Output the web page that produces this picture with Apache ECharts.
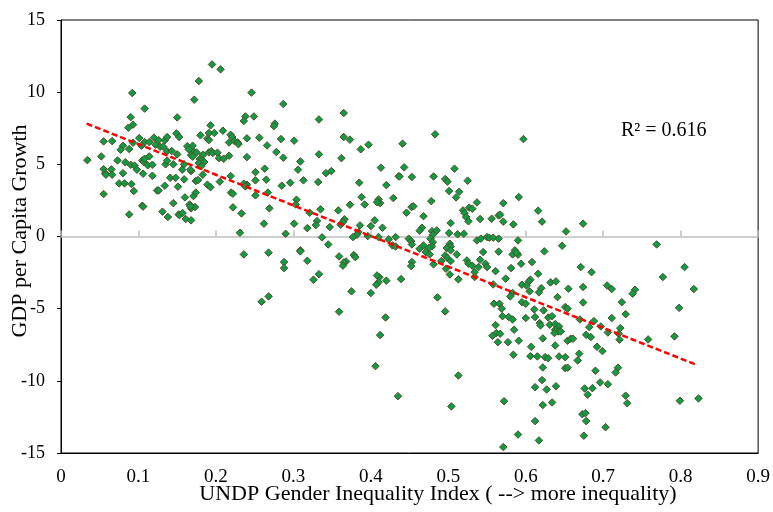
<!DOCTYPE html>
<html><head><meta charset="utf-8">
<script src="https://cdn.jsdelivr.net/npm/echarts@6/dist/echarts.min.js"></script>
<style>html,body{margin:0;padding:0;background:#fff}#c{width:773px;height:512px}</style>
</head><body><div id="c"></div>
<script>
var giiIndex = [
0.092,0.108,0.090,0.093,0.087,0.055,0.066,0.101,0.108,0.114,0.093,0.080,0.077,0.088,0.104,0.120,0.126,0.122,0.128,0.134,0.137,0.132,0.137,0.143,0.149,0.150,0.034,0.052,0.073,0.083,0.090,0.095,0.105,0.107,0.108,0.114,0.112,0.118,0.135,0.137,0.145,0.150,0.055,0.057,0.065,0.058,0.066,0.080,0.098,0.106,0.118,0.141,0.148,0.075,0.082,0.091,0.094,0.134,0.124,0.126,0.151,0.055,0.105,0.106,0.088,0.131,0.138,0.152,
0.178,0.172,0.246,0.287,0.238,0.236,0.249,0.276,0.275,0.193,0.1525,0.180,0.191,0.198,0.189,0.191,0.209,0.219,0.221,0.217,0.224,0.228,0.229,0.240,0.256,0.266,0.284,0.163,0.165,0.170,0.172,0.168,0.175,0.170,0.179,0.1835,0.182,0.185,0.178,0.181,0.191,0.194,0.196,0.202,0.204,0.210,0.217,0.240,0.278,0.287,0.1565,0.159,0.168,0.167,0.183,0.159,0.174,0.177,0.205,0.219,0.251,0.263,0.240,0.251,0.265,0.236,0.238,0.285,0.189,0.193,0.2195,0.222,0.251,0.267,0.160,0.171,0.174,0.166,0.168,0.173,0.167,0.145,0.153,0.157,0.161,0.168,0.222,0.233,0.269,0.262,0.231,0.290,0.195,0.206,
0.365,0.333,0.301,0.365,0.373,0.387,0.397,0.309,0.306,0.333,0.362,0.342,0.349,0.413,0.296,0.313,0.332,0.385,0.420,0.436,0.304,0.303,0.388,0.392,0.373,0.410,0.412,0.408,0.429,0.335,0.358,0.321,0.366,0.364,0.361,0.3305,0.329,0.405,0.301,0.318,0.347,0.386,0.400,0.415,0.384,0.382,0.377,0.396,0.410,0.337,0.423,0.428,0.432,0.432,0.345,0.309,
0.483,0.441,0.443,0.437,0.453,0.481,0.508,0.496,0.499,0.525,0.501,0.514,0.510,0.478,0.537,0.4525,0.455,0.446,0.519,0.521,0.527,0.531,0.523,0.526,0.541,0.556,0.565,0.468,0.503,0.466,0.463,0.479,0.485,0.480,0.501,0.512,0.520,0.449,0.452,0.453,0.477,0.480,0.479,0.502,0.503,0.537,0.542,0.550,0.553,0.558,0.565,0.463,0.468,0.475,0.471,0.476,0.498,0.503,0.511,0.496,0.491,0.481,0.499,0.503,0.524,0.526,0.531,0.539,0.541,0.545,0.548,0.550,0.561,0.453,0.452,0.497,0.502,0.439,0.513,0.534,0.534,0.411,
0.591,0.571,0.567,0.571,0.584,0.616,0.621,0.652,0.674,0.590,0.647,0.565,0.624,0.586,0.583,0.590,0.588,0.594,0.581,0.608,0.616,0.671,0.685,0.606,0.604,0.574,0.632,0.639,0.595,0.601,0.620,0.617,0.605,0.655,0.674,0.705,0.711,0.583,0.580,0.641,0.559,0.566,0.569,0.570,0.595,0.600,0.674,0.611,0.623,0.651,0.600,0.578,0.583,0.629,0.634,0.670,0.688,0.711,0.561,0.618,0.619,0.631,0.638,0.643,0.585,0.682,0.697,
0.558,0.654,0.612,0.638,0.642,0.637,0.645,0.562,0.567,0.557,0.622,0.654,0.658,0.661,0.678,0.684,0.706,0.720,0.564,0.577,0.591,0.638,0.607,0.606,0.615,0.625,0.629,0.643,0.651,0.584,0.669,0.667,0.692,0.699,0.622,0.651,0.654,0.690,0.719,0.716,0.621,0.696,0.706,0.612,0.627,0.639,0.676,0.686,0.680,0.572,0.622,0.634,0.673,0.677,0.678,0.612,0.703,0.675,0.617,0.571,
0.236,0.268,0.288,0.288,0.309,0.318,0.359,0.378,0.380,0.368,0.365,0.364,0.333,0.326,0.408,0.410,0.407,0.420,0.375,0.400,0.268,0.259,0.359,0.419,0.412,0.406,0.435,
0.769,0.805,0.777,0.741,0.738,0.817,0.724,0.729,0.798,0.722,0.721,0.758,0.792,0.729,0.731,0.799,0.823,0.597,
0.504,0.513,0.590,0.486,0.496
];
var gdpGrowth = [
9.94,8.86,8.27,7.75,7.54,6.59,6.61,6.82,6.54,6.54,6.50,6.29,6.01,6.06,6.29,6.85,6.68,6.36,6.22,6.66,6.89,6.22,5.90,5.92,7.14,8.25,5.29,5.55,5.27,5.14,4.97,4.91,5.27,5.16,5.39,5.55,4.93,4.97,5.00,5.25,5.00,5.69,4.67,4.39,4.65,4.28,4.28,4.39,4.63,4.35,4.21,4.07,4.07,3.68,3.68,3.63,3.15,3.52,3.19,3.19,3.45,2.94,2.13,2.07,1.53,1.72,1.35,1.53,
10.77,9.48,9.97,9.18,8.32,8.00,8.32,7.82,7.65,7.70,6.89,7.01,7.17,7.17,6.78,6.68,7.33,7.05,6.89,6.52,6.61,6.52,6.40,6.80,6.85,6.31,6.75,6.26,6.03,6.29,5.85,5.64,5.82,5.53,5.36,5.66,5.27,5.16,5.09,4.86,5.83,5.90,5.78,5.81,5.43,5.39,5.60,5.50,5.85,5.46,4.63,5.00,4.53,4.63,4.28,3.96,3.84,3.91,3.80,4.19,4.46,4.70,3.59,3.89,3.94,3.66,3.47,3.52,3.59,3.42,3.04,2.97,2.85,3.04,2.71,2.80,3.04,2.22,1.95,2.04,2.09,2.31,1.48,1.62,1.21,1.12,2.02,1.60,1.95,0.89,0.26,0.19,11.92,11.58,
8.55,8.11,6.64,6.89,6.71,6.04,6.36,5.20,4.63,5.69,5.43,4.39,4.53,4.77,3.73,3.89,3.77,3.73,3.56,4.17,2.55,2.22,2.73,2.22,2.20,2.57,2.31,2.38,2.66,1.88,1.81,1.65,1.19,1.00,0.82,1.07,0.79,1.12,0.89,0.58,0.65,0.77,0.72,0.61,0.31,0.12,-0.04,0.03,-0.04,-0.06,-0.20,-0.62,-0.69,-0.04,-0.55,-0.96,
7.08,6.43,4.79,4.16,4.12,4.16,4.70,3.98,3.80,3.87,3.15,3.10,2.71,2.45,2.36,2.04,2.09,1.65,1.81,1.62,2.00,1.93,1.35,1.05,1.21,1.23,1.46,1.41,0.93,0.61,0.40,0.37,0.42,0.12,0.24,0.15,0.19,-0.15,-0.32,-0.55,-0.15,-0.39,-0.69,-0.50,-0.69,-0.27,-0.15,-0.04,-0.08,-0.08,-0.15,-0.85,-0.62,-0.78,-1.08,-1.24,-0.80,-0.96,-1.24,-1.31,-1.70,-1.93,-1.50,-1.70,-1.66,-1.89,-2.02,-2.12,-1.61,-1.08,-1.89,-2.12,-2.40,-1.77,-2.05,-2.23,-2.63,-2.95,-2.97,-2.47,-2.81,-2.83,
2.73,2.31,1.51,1.03,0.84,1.79,1.03,0.35,0.89,-0.27,-0.64,-1.05,-1.03,-0.96,-1.24,-1.26,-1.12,-1.89,-2.19,-1.77,-2.58,-2.12,-2.47,-2.99,-3.11,-2.92,-3.18,-3.11,-3.34,-3.39,-3.58,-3.87,-3.80,-3.62,-3.50,-3.39,-3.64,-3.92,-4.15,-4.20,-4.66,-4.66,-5.00,-5.52,-4.55,-4.66,-4.57,-5.05,-5.12,-4.89,-5.65,-5.58,-5.75,-5.61,-5.52,-5.75,-5.86,-5.65,-6.14,-6.00,-6.16,-6.11,-6.07,-6.23,-6.46,-6.28,-6.23,
-3.32,-5.00,-5.58,-6.46,-6.58,-6.69,-6.58,-6.69,-6.74,-6.88,-7.06,-7.22,-7.08,-7.08,-6.81,-6.97,-6.65,-6.74,-7.32,-7.32,-7.22,-7.55,-7.64,-8.29,-8.31,-8.36,-8.43,-8.31,-8.36,-8.19,-8.12,-8.59,-7.64,-7.94,-9.07,-9.12,-9.09,-9.30,-9.09,-9.42,-9.95,-10.11,-10.23,-10.44,-10.60,-10.37,-10.53,-10.51,-10.96,-11.41,-11.68,-11.50,-12.31,-12.24,-12.79,-12.79,-13.21,-13.80,-14.13,-14.59,
-1.24,-1.12,-1.77,-2.19,-1.03,-1.68,-1.38,-1.29,-1.43,-1.73,-1.80,-2.02,-2.61,-2.99,-2.70,-3.16,-3.34,-3.06,-3.80,-3.92,-4.15,-4.52,-5.21,-5.61,-6.83,-8.98,-11.06,
-0.55,-2.12,-2.81,-3.69,-3.96,-3.64,-4.55,-5.38,-4.94,-6.35,-7.15,-7.13,-6.92,-11.03,-11.55,-11.38,-11.22,6.75,
-11.77,-9.63,-13.72,-4.22,-5.19
];
var trendX = [0.033, 0.820];
var trendY = [7.82, -8.88];
var xTicks = ['0','0.1','0.2','0.3','0.4','0.5','0.6','0.7','0.8','0.9'];
var yTicks = ['-15','-10','-5','0','5','10','15'];
var r2Label = 'R² = 0.616';
var xTitle = 'UNDP Gender Inequality Index ( --> more inequality)';
var yTitle = 'GDP per Capita Growth';

var pts = [];
for (var i = 0; i < Math.min(giiIndex.length, gdpGrowth.length); i++) pts.push([giiIndex[i], gdpGrowth[i]]);
var trend = trendX.map(function(x, i){ return [x, trendY[i]]; });

var font = 'Liberation Serif, Times New Roman, serif';
var chart = echarts.init(document.getElementById('c'), null, {renderer: 'canvas'});
chart.setOption({
  animation: false,
  backgroundColor: '#fff',
  grid: {left: 61, right: 14, top: 20, bottom: 59, show: true, borderColor: '#000', borderWidth: 1, backgroundColor: 'transparent'},
  xAxis: [{
    type: 'value', min: 0, max: 0.9, interval: 0.1, position: 'bottom',
    axisLine: {show: true, onZero: false, lineStyle: {color: '#000', width: 1}},
    axisTick: {show: false}, splitLine: {show: false},
    axisLabel: {margin: 15, color: '#000', fontFamily: font, fontSize: 19,
      formatter: function(v){ return xTicks[Math.round(v * 10)]; }}
  }, {
    type: 'value', min: 0, max: 0.9, interval: 0.1, position: 'bottom',
    axisLine: {show: true, onZero: true, lineStyle: {color: '#bfbfbf', width: 1.5}},
    axisTick: {show: true, inside: true, length: 6, lineStyle: {color: '#bfbfbf', width: 1.5}},
    axisLabel: {show: false}, splitLine: {show: false}
  }],
  yAxis: {
    type: 'value', min: -15, max: 15, interval: 5,
    axisLine: {show: true, lineStyle: {color: '#000', width: 1}},
    axisTick: {show: true, length: 4, lineStyle: {color: '#000'}},
    splitLine: {show: false},
    axisLabel: {margin: 16, color: '#000', fontFamily: font, fontSize: 18,
      formatter: function(v){ return yTicks[Math.round((v + 15) / 5)]; }}
  },
  series: [{
    type: 'scatter', xAxisIndex: 0, data: pts, symbol: 'diamond', symbolSize: 7.5,
    itemStyle: {color: '#129a45', borderColor: '#4e5028', borderWidth: 1, opacity: 1}, z: 3
  }, {
    type: 'line', xAxisIndex: 0, data: trend, showSymbol: false, symbol: 'none',
    lineStyle: {color: '#ff0000', width: 2.5, type: [6, 3]}, z: 4
  }],
  graphic: [
    {type: 'text', x: 621, y: 131, style: {text: r2Label, font: '20px ' + font, fill: '#000', textVerticalAlign: 'middle'}},
    {type: 'text', x: 438, y: 494, style: {text: xTitle, font: '22px ' + font, fill: '#000', textAlign: 'center', textVerticalAlign: 'middle'}},
    {type: 'text', x: 20, y: 231, rotation: Math.PI / 2, style: {text: yTitle, font: '22px ' + font, fill: '#000', textAlign: 'center', textVerticalAlign: 'middle'}}
  ]
});
</script></body></html>
